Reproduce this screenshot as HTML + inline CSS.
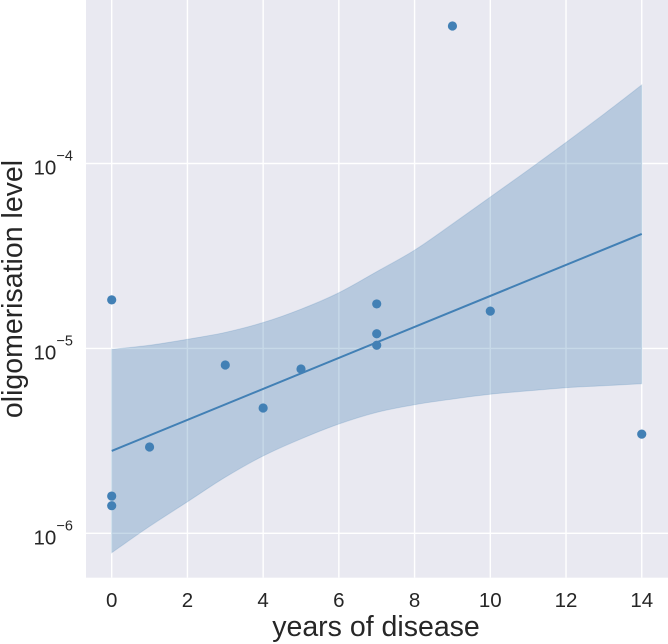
<!DOCTYPE html>
<html>
<head>
<meta charset="utf-8">
<style>
html,body{margin:0;padding:0;background:#fff;width:668px;height:644px;overflow:hidden}
svg{display:block;filter:blur(0.3px)}
text{font-family:"Liberation Sans",Arial,sans-serif;fill:#262626}
</style>
</head>
<body>
<svg id="chart" width="668" height="644" viewBox="0 0 668 644" xmlns="http://www.w3.org/2000/svg"></svg>
<script>
const xTicks = [0, 2, 4, 6, 8, 10, 12, 14];
const yTickExponents = [-6, -5, -4];
const pointYears = [0, 0, 0, 1, 3, 4, 5, 7, 7, 7, 9, 10, 14];
const pointLevels = [1.83e-5, 1.59e-6, 1.41e-6, 2.93e-6, 8.13e-6, 4.76e-6, 7.74e-6, 1.74e-5, 1.20e-5, 1.04e-5, 5.54e-4, 1.59e-5, 3.44e-6];
const fitYears = [0, 14];
const fitLevels = [2.79e-6, 4.16e-5];
const bandYears = [0, 1, 2, 3, 4, 5, 6, 7, 8, 9, 10, 11, 12, 13, 14];
const bandUpper = [9.89e-6, 1.04e-5, 1.12e-5, 1.22e-5, 1.38e-5, 1.63e-5, 2.00e-5, 2.60e-5, 3.40e-5, 4.71e-5, 6.59e-5, 9.22e-5, 1.30e-4, 1.85e-4, 2.66e-4];
const bandLower = [7.85e-7, 1.09e-6, 1.48e-6, 2.01e-6, 2.62e-6, 3.24e-6, 3.90e-6, 4.51e-6, 4.96e-6, 5.32e-6, 5.65e-6, 5.89e-6, 6.13e-6, 6.28e-6, 6.44e-6];

const svg = document.getElementById('chart');
const NS = 'http://www.w3.org/2000/svg';
const plotLeft = 86, plotRight = 668, plotTop = 0, plotBottom = 577.7;
function xScale(v) { return 111.7 + v * 37.86; }
function yScale(v) { return 533.3 - (Math.log10(v) + 6) * 184.9; }
function make(tag, attrs) {
  const el = document.createElementNS(NS, tag);
  for (const k in attrs) el.setAttribute(k, attrs[k]);
  svg.appendChild(el);
  return el;
}
function smoothSegments(pts) {
  let d = '';
  for (let i = 0; i < pts.length - 1; i++) {
    const p0 = pts[Math.max(i - 1, 0)], p1 = pts[i], p2 = pts[i + 1], p3 = pts[Math.min(i + 2, pts.length - 1)];
    const c1x = p1[0] + (p2[0] - p0[0]) / 6, c1y = p1[1] + (p2[1] - p0[1]) / 6;
    const c2x = p2[0] - (p3[0] - p1[0]) / 6, c2y = p2[1] - (p3[1] - p1[1]) / 6;
    d += ' C' + c1x + ' ' + c1y + ' ' + c2x + ' ' + c2y + ' ' + p2[0] + ' ' + p2[1];
  }
  return d;
}

const bg = make('rect', {x: plotLeft, y: plotTop, width: plotRight - plotLeft, height: plotBottom - plotTop, fill: '#e9e9f1'});



xTicks.forEach(function (t) {
  const line = make('line', {x1: xScale(t), x2: xScale(t), y1: plotTop, y2: plotBottom, stroke: '#fff', 'stroke-width': 1.4});
  
  
  const label = make('text', {x: xScale(t), y: 607, 'font-size': 20.5, 'text-anchor': 'middle'});
  label.textContent = t;
  
  
});

yTickExponents.forEach(function (e) {
  const y = yScale(Math.pow(10, e));
  const line = make('line', {x1: plotLeft, x2: plotRight, y1: y, y2: y, stroke: '#fff', 'stroke-width': 1.4});
  
  
  const base = make('text', {x: 33.5, y: y + 11, 'font-size': 20.5});
  base.textContent = '10';
  
  
  const exp = make('text', {x: 73, y: y - 3, 'font-size': 14.5, 'text-anchor': 'end'});
  exp.textContent = '\u2212' + Math.abs(e);
  
  
});

const upperPts = bandYears.map(function (t, i) { return [xScale(t), yScale(bandUpper[i])]; });
const lowerPts = bandYears.map(function (t, i) { return [xScale(t), yScale(bandLower[i])]; }).reverse();
const bandPath = 'M' + upperPts[0][0] + ' ' + upperPts[0][1] + smoothSegments(upperPts) +
  ' L' + lowerPts[0][0] + ' ' + lowerPts[0][1] + smoothSegments(lowerPts) + ' Z';
const band = make('path', {d: bandPath, fill: '#4682b4', 'fill-opacity': 0.3, stroke: '#4682b4', 'stroke-opacity': 0.2, 'stroke-width': 1});



const fit = make('line', {x1: xScale(fitYears[0]), y1: yScale(fitLevels[0]), x2: xScale(fitYears[1]), y2: yScale(fitLevels[1]), stroke: '#4280b5', 'stroke-width': 2});



pointYears.forEach(function (t, i) {
  const c = make('circle', {cx: xScale(t), cy: yScale(pointLevels[i]), r: 4.6, fill: '#4280b5'});
  
  
});

const xTitle = make('text', {x: 376, y: 636, 'font-size': 28.5, 'text-anchor': 'middle'});
xTitle.textContent = 'years of disease';



const yTitle = make('text', {x: 0, y: 0, 'font-size': 28.5, 'text-anchor': 'middle', transform: 'translate(22 289) rotate(-90)'});
yTitle.textContent = 'oligomerisation level';


</script>
</body>
</html>
